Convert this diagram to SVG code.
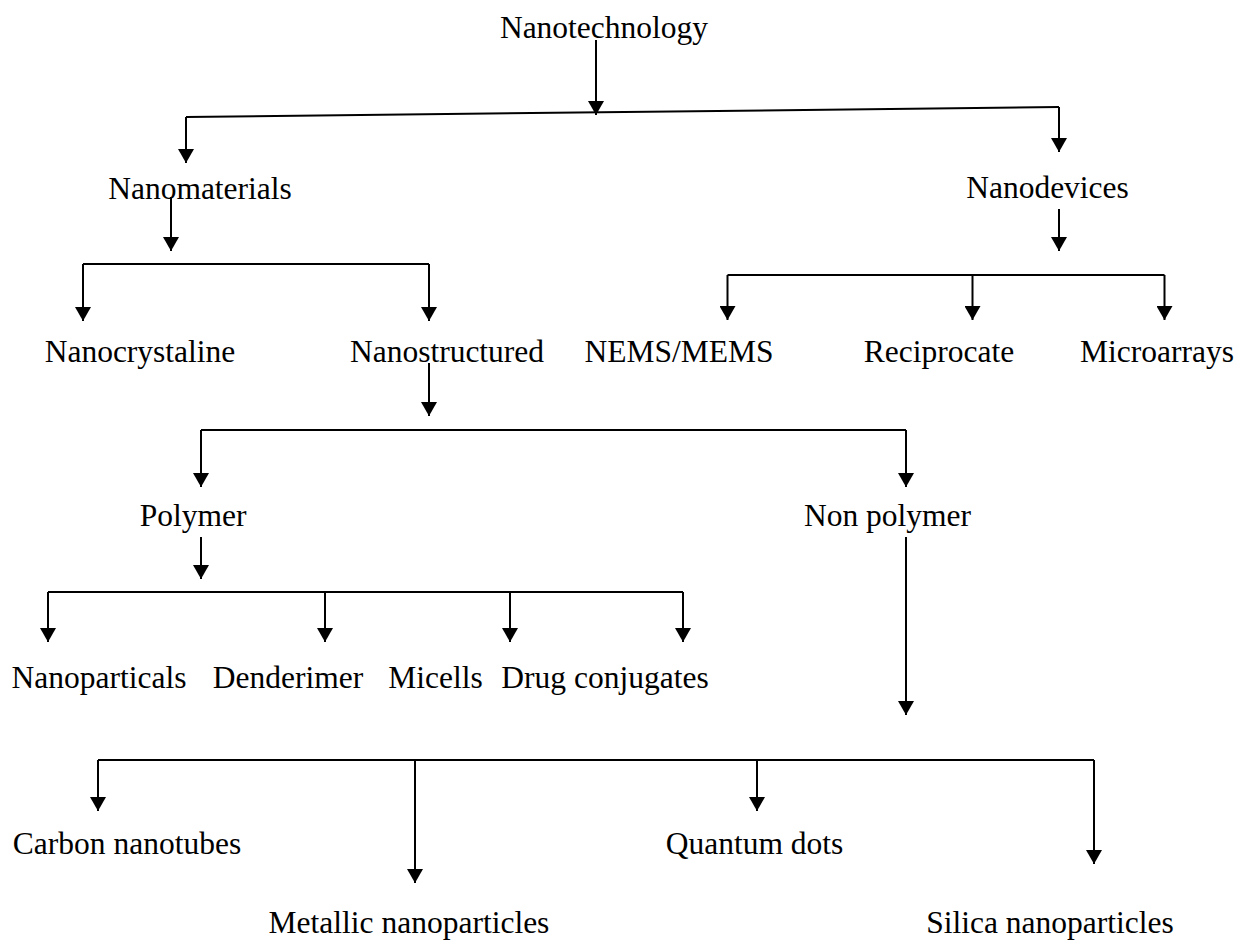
<svg xmlns="http://www.w3.org/2000/svg" width="1237" height="944" viewBox="0 0 1237 944">
<style>
text{font-family:"Liberation Serif","Times New Roman",serif;font-size:31.5px;fill:#000;text-anchor:middle}
.c path{fill:none;stroke:#000;stroke-width:2}
.a{marker-end:url(#ah)}
</style>
<defs>
<marker id="ah" viewBox="0 0 14 16" markerWidth="14" markerHeight="16" refX="14" refY="8" orient="auto" markerUnits="userSpaceOnUse">
<path d="M0,0 L14,8 L0,16 z" fill="#000"/>
</marker>
</defs>
<rect width="1237" height="944" fill="#fff"/>
<g id="connectors" class="c">
<path class="a" d="M596,40 V115"/>
<path d="M186,117 L1059,107"/>
<path class="a" d="M186,117 V163"/>
<path class="a" d="M1059,107 V152"/>
<path class="a" d="M171,197 V251"/>
<path d="M83,264 H429"/>
<path class="a" d="M83,264 V321"/>
<path class="a" d="M429,264 V321"/>
<path class="a" d="M1059,209 V251"/>
<path d="M727.5,275 H1164.5"/>
<path class="a" d="M727.5,275 V320"/>
<path class="a" d="M972.5,275 V320"/>
<path class="a" d="M1164.5,275 V320"/>
<path class="a" d="M429,363 V416"/>
<path d="M201,430 H906"/>
<path class="a" d="M201,430 V487"/>
<path class="a" d="M906,430 V487"/>
<path class="a" d="M201,537 V579"/>
<path d="M48,592 H683"/>
<path class="a" d="M48,592 V642"/>
<path class="a" d="M325,592 V642"/>
<path class="a" d="M510,592 V642"/>
<path class="a" d="M683,592 V642"/>
<path class="a" d="M906,537 V715"/>
<path d="M98,760 H1094"/>
<path class="a" d="M98,760 V811"/>
<path class="a" d="M415,760 V883"/>
<path class="a" d="M757,760 V811"/>
<path class="a" d="M1094,760 V864"/>
</g>
<g id="n-nanotechnology"><text x="604" y="38">Nanotechnology</text></g>
<g id="n-nanomaterials"><text x="200" y="199">Nanomaterials</text></g>
<g id="n-nanodevices"><text x="1047.5" y="198">Nanodevices</text></g>
<g id="n-nanocrystaline"><text x="140" y="362">Nanocrystaline</text></g>
<g id="n-nanostructured"><text x="447" y="362">Nanostructured</text></g>
<g id="n-nems"><text x="679" y="362">NEMS/MEMS</text></g>
<g id="n-reciprocate"><text x="939" y="362">Reciprocate</text></g>
<g id="n-microarrays"><text x="1157" y="362">Microarrays</text></g>
<g id="n-polymer"><text x="193" y="526">Polymer</text></g>
<g id="n-nonpolymer"><text x="887.5" y="526">Non polymer</text></g>
<g id="n-nanoparticals"><text x="99" y="688">Nanoparticals</text></g>
<g id="n-denderimer"><text x="288" y="688">Denderimer</text></g>
<g id="n-micells"><text x="435.5" y="688">Micells</text></g>
<g id="n-drug"><text x="605" y="688">Drug conjugates</text></g>
<g id="n-carbon"><text x="127" y="854">Carbon nanotubes</text></g>
<g id="n-quantum"><text x="754.5" y="854">Quantum dots</text></g>
<g id="n-metallic"><text x="409" y="933">Metallic nanoparticles</text></g>
<g id="n-silica"><text x="1050" y="933">Silica nanoparticles</text></g>
</svg>
